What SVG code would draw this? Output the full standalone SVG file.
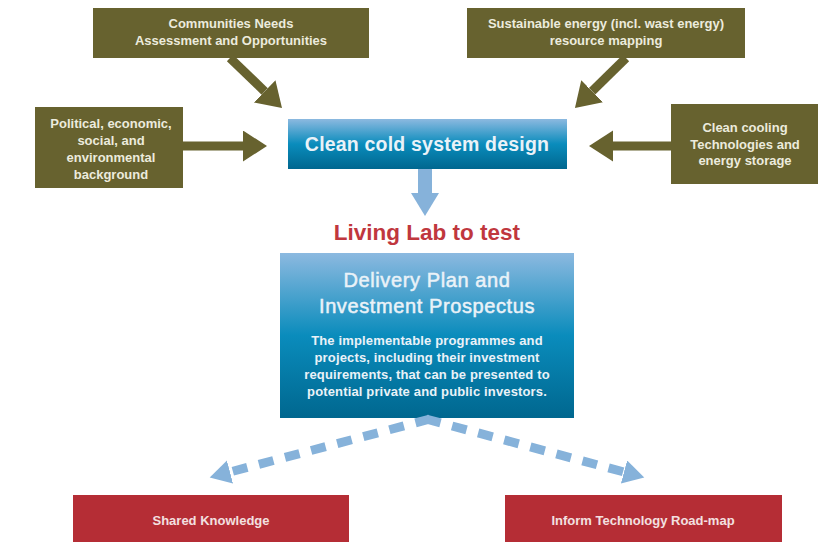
<svg xmlns="http://www.w3.org/2000/svg" width="824" height="542" viewBox="0 0 824 542">
<defs>
<linearGradient id="blueGrad" x1="0" y1="0" x2="0" y2="1">
<stop offset="0" stop-color="#8cb9e0"/>
<stop offset="0.5" stop-color="#0a8cbc"/>
<stop offset="1" stop-color="#00678f"/>
</linearGradient>
<marker id="oliveHead" markerUnits="userSpaceOnUse" markerWidth="26" markerHeight="32" refX="0" refY="15.5" orient="auto">
<path d="M0,0 L24,15.5 L0,31 z" fill="#67622f"/>
</marker>
<marker id="blueHead" markerUnits="userSpaceOnUse" markerWidth="25" markerHeight="30" refX="0" refY="14" orient="auto">
<path d="M0,0 L23,14 L0,28 z" fill="#86b2da"/>
</marker>
<marker id="dashHead" markerUnits="userSpaceOnUse" markerWidth="24" markerHeight="26" refX="0" refY="12" orient="auto">
<path d="M0,0 L21,12 L0,24 z" fill="#86b2da"/>
</marker>
</defs>
<style>
.olive{fill:#67622f}
.red{fill:#b52d35}
.otxt{font-family:"Liberation Sans",Arial,sans-serif;font-size:13px;font-weight:bold;fill:#ecebdd;text-anchor:middle}
.rtxt{font-family:"Liberation Sans",Arial,sans-serif;font-size:13px;font-weight:bold;fill:#f3e0e0;text-anchor:middle}
.btxt{font-family:"Liberation Sans",Arial,sans-serif;fill:#eaf2f8;text-anchor:middle}
.ttl{font-size:20px;letter-spacing:0.6px;stroke:#eaf2f8;stroke-width:0.5px}
.body{font-size:13px;font-weight:bold;letter-spacing:0.15px}
.oarrow{stroke:#67622f;stroke-width:9;fill:none;marker-end:url(#oliveHead)}
.darrow{stroke:#86b2da;stroke-width:9;fill:none;stroke-dasharray:15 12;marker-end:url(#dashHead)}
</style>

<g id="communities">
<rect class="olive" x="93" y="8" width="276" height="50"/>
<text class="otxt" x="231" y="28">Communities Needs</text>
<text class="otxt" x="231" y="45">Assessment and Opportunities</text>
</g>

<g id="sustainable">
<rect class="olive" x="467" y="8" width="278" height="50"/>
<text class="otxt" x="606" y="28">Sustainable energy (incl. wast energy)</text>
<text class="otxt" x="606" y="45">resource mapping</text>
</g>

<g id="political">
<rect class="olive" x="35" y="107" width="148" height="81"/>
<text class="otxt" x="111" y="128">Political, economic,</text>
<text class="otxt" x="111" y="145">social, and</text>
<text class="otxt" x="111" y="162">environmental</text>
<text class="otxt" x="111" y="179">background</text>
</g>

<g id="cooling">
<rect class="olive" x="671" y="104" width="147" height="80"/>
<text class="otxt" x="745" y="132">Clean cooling</text>
<text class="otxt" x="745" y="148.5">Technologies and</text>
<text class="otxt" x="745" y="165">energy storage</text>
</g>

<g id="design">
<rect x="288" y="119" width="279" height="50" fill="url(#blueGrad)"/>
<text class="btxt" x="427" y="151" font-size="19.5" font-weight="bold" letter-spacing="0.2">Clean cold system design</text>
</g>

<g id="livinglab">
<text x="427" y="240" font-family="'Liberation Sans',Arial,sans-serif" font-size="22.5" font-weight="bold" fill="#c0373e" text-anchor="middle">Living Lab to test</text>
</g>

<g id="delivery">
<rect x="280" y="253" width="294" height="165" fill="url(#blueGrad)"/>
<text class="btxt ttl" x="427" y="287">Delivery Plan and</text>
<text class="btxt ttl" x="427" y="313">Investment Prospectus</text>
<text class="btxt body" x="427" y="345">The implementable programmes and</text>
<text class="btxt body" x="427" y="362">projects, including their investment</text>
<text class="btxt body" x="427" y="379">requirements, that can be presented to</text>
<text class="btxt body" x="427" y="396">potential private and public investors.</text>
</g>

<g id="shared">
<rect class="red" x="73" y="495" width="276" height="47"/>
<text class="rtxt" x="211" y="525">Shared Knowledge</text>
</g>

<g id="roadmap">
<rect class="red" x="505" y="495" width="277" height="47"/>
<text class="rtxt" x="643" y="525">Inform Technology Road-map</text>
</g>

<g id="connectors">
<line class="oarrow" x1="230" y1="58" x2="264.7" y2="91.4"/>
<line class="oarrow" x1="626" y1="58" x2="592.1" y2="91.2"/>
<line class="oarrow" x1="183" y1="146" x2="243" y2="146"/>
<line class="oarrow" x1="671" y1="146" x2="613" y2="146"/>
<line x1="425" y1="169" x2="425" y2="193" stroke="#86b2da" stroke-width="14" marker-end="url(#blueHead)"/>
<path class="darrow" d="M430,419 L230,472"/>
<path class="darrow" d="M426,419 L624,472"/>
</g>
</svg>
